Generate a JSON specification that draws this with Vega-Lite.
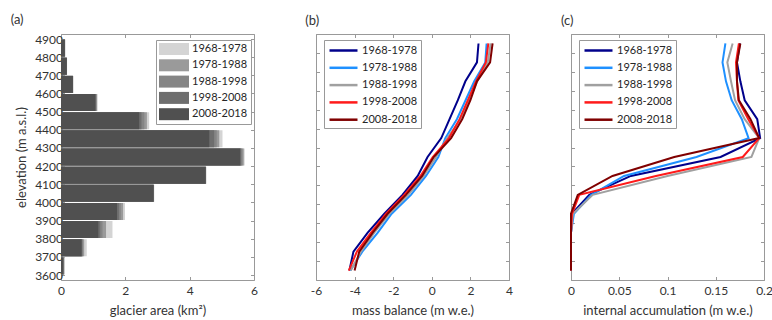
{
  "$schema": "https://vega.github.io/schema/vega-lite/v6.json",
  "padding": {"left": 10, "top": 13, "right": 5, "bottom": 0},
  "bounds": "flush",
  "spacing": 62,
  "config": {
    "font": "Lato",
    "view": {"stroke": "#999", "strokeWidth": 1},
    "axis": {"grid": false, "domain": false, "labelFlush": false, "labelOverlap": false, "tickColor": "#999", "tickSize": -3.5, "labelFont": "Lato", "labelFontSize": 12, "labelColor": "#333", "titleFont": "Lato", "titleFontSize": 13, "titleFontWeight": "normal", "titleColor": "#333"},
    "title": {"font": "Lato", "fontSize": 13, "fontWeight": "normal", "color": "#333", "anchor": "start", "offset": 6},
    "legend": {"orient": "none", "legendX": 8, "legendY": 6, "strokeColor": "#999", "fillColor": "white", "padding": 3, "labelFont": "Lato", "labelFontSize": 11, "labelColor": "#262626", "title": null, "symbolSize": 144, "symbolOffset": 0, "labelOffset": 20, "rowPadding": 4.3}
  },
  "datasets": {
    "area": [
      {"e":3650,"p":"1968-1978","a":0.12},{"e":3650,"p":"1978-1988","a":0.10},{"e":3650,"p":"1988-1998","a":0.09},{"e":3650,"p":"1998-2008","a":0.08},{"e":3650,"p":"2008-2018","a":0.07},
      {"e":3750,"p":"1968-1978","a":0.80},{"e":3750,"p":"1978-1988","a":0.72},{"e":3750,"p":"1988-1998","a":0.68},{"e":3750,"p":"1998-2008","a":0.66},{"e":3750,"p":"2008-2018","a":0.64},
      {"e":3850,"p":"1968-1978","a":1.60},{"e":3850,"p":"1978-1988","a":1.40},{"e":3850,"p":"1988-1998","a":1.29},{"e":3850,"p":"1998-2008","a":1.22},{"e":3850,"p":"2008-2018","a":1.16},
      {"e":3950,"p":"1968-1978","a":1.99},{"e":3950,"p":"1978-1988","a":1.93},{"e":3950,"p":"1988-1998","a":1.86},{"e":3950,"p":"1998-2008","a":1.80},{"e":3950,"p":"2008-2018","a":1.74},
      {"e":4050,"p":"1968-1978","a":2.90},{"e":4050,"p":"1978-1988","a":2.89},{"e":4050,"p":"1988-1998","a":2.88},{"e":4050,"p":"1998-2008","a":2.88},{"e":4050,"p":"2008-2018","a":2.88},
      {"e":4150,"p":"1968-1978","a":4.52},{"e":4150,"p":"1978-1988","a":4.51},{"e":4150,"p":"1988-1998","a":4.50},{"e":4150,"p":"1998-2008","a":4.50},{"e":4150,"p":"2008-2018","a":4.50},
      {"e":4250,"p":"1968-1978","a":5.71},{"e":4250,"p":"1978-1988","a":5.68},{"e":4250,"p":"1988-1998","a":5.64},{"e":4250,"p":"1998-2008","a":5.60},{"e":4250,"p":"2008-2018","a":5.57},
      {"e":4350,"p":"1968-1978","a":5.02},{"e":4350,"p":"1978-1988","a":4.92},{"e":4350,"p":"1988-1998","a":4.84},{"e":4350,"p":"1998-2008","a":4.76},{"e":4350,"p":"2008-2018","a":4.61},
      {"e":4450,"p":"1968-1978","a":2.74},{"e":4450,"p":"1978-1988","a":2.67},{"e":4450,"p":"1988-1998","a":2.59},{"e":4450,"p":"1998-2008","a":2.50},{"e":4450,"p":"2008-2018","a":2.43},
      {"e":4550,"p":"1968-1978","a":1.14},{"e":4550,"p":"1978-1988","a":1.12},{"e":4550,"p":"1988-1998","a":1.10},{"e":4550,"p":"1998-2008","a":1.08},{"e":4550,"p":"2008-2018","a":1.07},
      {"e":4650,"p":"1968-1978","a":0.38},{"e":4650,"p":"1978-1988","a":0.38},{"e":4650,"p":"1988-1998","a":0.37},{"e":4650,"p":"1998-2008","a":0.37},{"e":4650,"p":"2008-2018","a":0.37},
      {"e":4750,"p":"1968-1978","a":0.19},{"e":4750,"p":"1978-1988","a":0.18},{"e":4750,"p":"1988-1998","a":0.18},{"e":4750,"p":"1998-2008","a":0.18},{"e":4750,"p":"2008-2018","a":0.18},
      {"e":4850,"p":"1968-1978","a":0.13},{"e":4850,"p":"1978-1988","a":0.13},{"e":4850,"p":"1988-1998","a":0.12},{"e":4850,"p":"1998-2008","a":0.12},{"e":4850,"p":"2008-2018","a":0.12}
    ],
    "mb": [
      {"e":3650,"p":"1968-1978","v":-4.27},{"e":3750,"p":"1968-1978","v":-4.06},{"e":3850,"p":"1968-1978","v":-3.32},{"e":3950,"p":"1968-1978","v":-2.46},{"e":4050,"p":"1968-1978","v":-1.52},{"e":4150,"p":"1968-1978","v":-0.73},{"e":4250,"p":"1968-1978","v":-0.22},{"e":4350,"p":"1968-1978","v":0.49},{"e":4450,"p":"1968-1978","v":0.92},{"e":4550,"p":"1968-1978","v":1.35},{"e":4650,"p":"1968-1978","v":1.74},{"e":4750,"p":"1968-1978","v":2.34},{"e":4850,"p":"1968-1978","v":2.42},
      {"e":3650,"p":"1978-1988","v":-4.22},{"e":3750,"p":"1978-1988","v":-3.6},{"e":3850,"p":"1978-1988","v":-2.8},{"e":3950,"p":"1978-1988","v":-2.08},{"e":4050,"p":"1978-1988","v":-1.08},{"e":4150,"p":"1978-1988","v":-0.3},{"e":4250,"p":"1978-1988","v":0.34},{"e":4350,"p":"1978-1988","v":0.7},{"e":4450,"p":"1978-1988","v":1.3},{"e":4550,"p":"1978-1988","v":1.75},{"e":4650,"p":"1978-1988","v":2.2},{"e":4750,"p":"1978-1988","v":2.77},{"e":4850,"p":"1978-1988","v":2.84},
      {"e":3650,"p":"1988-1998","v":-4.2},{"e":3750,"p":"1988-1998","v":-3.67},{"e":3850,"p":"1988-1998","v":-2.98},{"e":3950,"p":"1988-1998","v":-2.2},{"e":4050,"p":"1988-1998","v":-1.22},{"e":4150,"p":"1988-1998","v":-0.42},{"e":4250,"p":"1988-1998","v":0.22},{"e":4350,"p":"1988-1998","v":0.8},{"e":4450,"p":"1988-1998","v":1.5},{"e":4550,"p":"1988-1998","v":1.93},{"e":4650,"p":"1988-1998","v":2.35},{"e":4750,"p":"1988-1998","v":2.9},{"e":4850,"p":"1988-1998","v":3.05},
      {"e":3650,"p":"1998-2008","v":-4.3},{"e":3750,"p":"1998-2008","v":-3.88},{"e":3850,"p":"1998-2008","v":-3.15},{"e":3950,"p":"1998-2008","v":-2.37},{"e":4050,"p":"1998-2008","v":-1.43},{"e":4150,"p":"1998-2008","v":-0.59},{"e":4250,"p":"1998-2008","v":0.05},{"e":4350,"p":"1998-2008","v":0.89},{"e":4450,"p":"1998-2008","v":1.44},{"e":4550,"p":"1998-2008","v":1.87},{"e":4650,"p":"1998-2008","v":2.29},{"e":4750,"p":"1998-2008","v":2.8},{"e":4850,"p":"1998-2008","v":2.93},
      {"e":3650,"p":"2008-2018","v":-4.0},{"e":3750,"p":"2008-2018","v":-3.76},{"e":3850,"p":"2008-2018","v":-3.06},{"e":3950,"p":"2008-2018","v":-2.29},{"e":4050,"p":"2008-2018","v":-1.34},{"e":4150,"p":"2008-2018","v":-0.5},{"e":4250,"p":"2008-2018","v":0.1},{"e":4350,"p":"2008-2018","v":1.0},{"e":4450,"p":"2008-2018","v":1.58},{"e":4550,"p":"2008-2018","v":2.0},{"e":4650,"p":"2008-2018","v":2.34},{"e":4750,"p":"2008-2018","v":3.02},{"e":4850,"p":"2008-2018","v":3.15}
    ],
    "ia": [
      {"e":3650,"p":"1968-1978","v":0},{"e":3750,"p":"1968-1978","v":0},{"e":3850,"p":"1968-1978","v":0},{"e":3950,"p":"1968-1978","v":0.001},{"e":4050,"p":"1968-1978","v":0.019},{"e":4150,"p":"1968-1978","v":0.062},{"e":4250,"p":"1968-1978","v":0.155},{"e":4350,"p":"1968-1978","v":0.196},{"e":4450,"p":"1968-1978","v":0.193},{"e":4550,"p":"1968-1978","v":0.18},{"e":4650,"p":"1968-1978","v":0.1755},{"e":4750,"p":"1968-1978","v":0.172},{"e":4850,"p":"1968-1978","v":0.175},
      {"e":3650,"p":"1978-1988","v":0},{"e":3750,"p":"1978-1988","v":0},{"e":3850,"p":"1978-1988","v":0},{"e":3950,"p":"1978-1988","v":0.003},{"e":4050,"p":"1978-1988","v":0.021},{"e":4150,"p":"1978-1988","v":0.055},{"e":4250,"p":"1978-1988","v":0.13},{"e":4350,"p":"1978-1988","v":0.184},{"e":4450,"p":"1978-1988","v":0.177},{"e":4550,"p":"1978-1988","v":0.1665},{"e":4650,"p":"1978-1988","v":0.1606},{"e":4750,"p":"1978-1988","v":0.157},{"e":4850,"p":"1978-1988","v":0.16},
      {"e":3650,"p":"1988-1998","v":0},{"e":3750,"p":"1988-1998","v":0},{"e":3850,"p":"1988-1998","v":0},{"e":3950,"p":"1988-1998","v":0.002},{"e":4050,"p":"1988-1998","v":0.0225},{"e":4150,"p":"1988-1998","v":0.1},{"e":4250,"p":"1988-1998","v":0.187},{"e":4350,"p":"1988-1998","v":0.195},{"e":4450,"p":"1988-1998","v":0.18},{"e":4550,"p":"1988-1998","v":0.17},{"e":4650,"p":"1988-1998","v":0.1658},{"e":4750,"p":"1988-1998","v":0.162},{"e":4850,"p":"1988-1998","v":0.1675},
      {"e":3650,"p":"1998-2008","v":0},{"e":3750,"p":"1998-2008","v":0},{"e":3850,"p":"1998-2008","v":0},{"e":3950,"p":"1998-2008","v":0.001},{"e":4050,"p":"1998-2008","v":0.0086},{"e":4150,"p":"1998-2008","v":0.088},{"e":4250,"p":"1998-2008","v":0.178},{"e":4350,"p":"1998-2008","v":0.195},{"e":4450,"p":"1998-2008","v":0.1837},{"e":4550,"p":"1998-2008","v":0.1734},{"e":4650,"p":"1998-2008","v":0.172},{"e":4750,"p":"1998-2008","v":0.171},{"e":4850,"p":"1998-2008","v":0.174},
      {"e":3650,"p":"2008-2018","v":0},{"e":3750,"p":"2008-2018","v":0},{"e":3850,"p":"2008-2018","v":0},{"e":3950,"p":"2008-2018","v":0},{"e":4050,"p":"2008-2018","v":0.007},{"e":4150,"p":"2008-2018","v":0.043},{"e":4250,"p":"2008-2018","v":0.107},{"e":4350,"p":"2008-2018","v":0.195},{"e":4450,"p":"2008-2018","v":0.186},{"e":4550,"p":"2008-2018","v":0.174},{"e":4650,"p":"2008-2018","v":0.172},{"e":4750,"p":"2008-2018","v":0.172},{"e":4850,"p":"2008-2018","v":0.1755}
    ]
  },
  "hconcat": [
    {
      "width": 193, "height": 246,
      "title": {"text": "(a)", "dx": -5},
      "data": {"name": "area"},
      "layer": [
        {
          "mark": {"type": "bar", "orient": "horizontal", "size": 17},
          "encoding": {
            "y": {"field": "e", "type": "quantitative", "scale": {"domain": [3600, 4900], "nice": false, "zero": false}, "axis": {"values": [3600,3700,3800,3900,4000,4100,4200,4300,4400,4500,4600,4700,4800,4900], "labelExpr": "'' + datum.value", "title": "elevation (m a.s.l.)", "labelPadding": 2, "titlePadding": 6}},
            "x": {"field": "a", "type": "quantitative", "stack": null, "scale": {"domain": [0, 6], "nice": false}, "axis": {"values": [0,2,4,6], "title": "glacier area (km²)", "labelPadding": 9, "titlePadding": 8}},
            "color": {"field": "p", "type": "nominal", "scale": {"domain": ["1968-1978","1978-1988","1988-1998","1998-2008","2008-2018"], "range": ["#d4d4d4","#9a9a9a","#858585","#6e6e6e","#505050"]}, "legend": {"legendX": 95, "legendY": 6, "symbolType": "M-1,-1H4V1H-1Z", "symbolStrokeWidth": 0, "symbolOpacity": 1, "labelOffset": 21}}
          }
        },
        {
          "mark": {"type": "point", "opacity": 0},
          "encoding": {
            "x": {"field": "a", "type": "quantitative", "stack": null, "axis": {"orient": "top", "labels": false, "title": null, "values": [0,2,4,6]}},
            "y": {"field": "e", "type": "quantitative", "axis": {"orient": "right", "labels": false, "title": null, "values": [3600,3700,3800,3900,4000,4100,4200,4300,4400,4500,4600,4700,4800,4900]}}
          }
        }
      ],
      "resolve": {"axis": {"x": "independent", "y": "independent"}}
    },
    {
      "width": 193, "height": 246,
      "title": {"text": "(b)", "dx": -5},
      "data": {"name": "mb"},
      "layer": [
        {
          "mark": {"type": "line", "strokeWidth": 2},
          "encoding": {
            "y": {"field": "e", "type": "quantitative", "scale": {"domain": [3600, 4900], "nice": false, "zero": false}, "axis": {"values": [3600,3700,3800,3900,4000,4100,4200,4300,4400,4500,4600,4700,4800,4900], "labels": false, "title": null}},
            "x": {"field": "v", "type": "quantitative", "scale": {"domain": [-6, 4], "nice": false}, "axis": {"values": [-6,-4,-2,0,2,4], "labelExpr": "'' + datum.value", "title": "mass balance (m w.e.)", "labelPadding": 9, "titlePadding": 8}},
            "color": {"field": "p", "type": "nominal", "scale": {"domain": ["1968-1978","1978-1988","1988-1998","1998-2008","2008-2018"], "range": ["#00008b","#1e90ff","#a0a0a0","#ff1a1a","#800000"]}, "legend": {"legendX": 8, "legendY": 6, "symbolType": "M-0.833,0H3.833", "symbolStrokeWidth": 2.5}},
            "order": {"field": "e", "type": "quantitative"}
          }
        },
        {
          "mark": {"type": "point", "opacity": 0},
          "encoding": {
            "x": {"field": "v", "type": "quantitative", "axis": {"orient": "top", "labels": false, "title": null, "values": [-6,-4,-2,0,2,4]}},
            "y": {"field": "e", "type": "quantitative", "axis": {"orient": "right", "labels": false, "title": null, "values": [3600,3700,3800,3900,4000,4100,4200,4300,4400,4500,4600,4700,4800,4900]}}
          }
        }
      ],
      "resolve": {"axis": {"x": "independent", "y": "independent"}}
    },
    {
      "width": 193, "height": 246,
      "title": {"text": "(c)", "dx": -6},
      "data": {"name": "ia"},
      "layer": [
        {
          "mark": {"type": "line", "strokeWidth": 2},
          "encoding": {
            "y": {"field": "e", "type": "quantitative", "scale": {"domain": [3600, 4900], "nice": false, "zero": false}, "axis": {"values": [3600,3700,3800,3900,4000,4100,4200,4300,4400,4500,4600,4700,4800,4900], "labels": false, "title": null}},
            "x": {"field": "v", "type": "quantitative", "scale": {"domain": [0, 0.2], "nice": false}, "axis": {"values": [0,0.05,0.1,0.15,0.2], "labelExpr": "'' + datum.value", "title": "internal accumulation (m w.e.)", "labelPadding": 9, "titlePadding": 8}},
            "color": {"field": "p", "type": "nominal", "scale": {"domain": ["1968-1978","1978-1988","1988-1998","1998-2008","2008-2018"], "range": ["#00008b","#1e90ff","#a0a0a0","#ff1a1a","#800000"]}, "legend": {"legendX": 8, "legendY": 6, "symbolType": "M-0.833,0H3.833", "symbolStrokeWidth": 2.5}},
            "order": {"field": "e", "type": "quantitative"}
          }
        },
        {
          "mark": {"type": "point", "opacity": 0},
          "encoding": {
            "x": {"field": "v", "type": "quantitative", "axis": {"orient": "top", "labels": false, "title": null, "values": [0,0.05,0.1,0.15,0.2]}},
            "y": {"field": "e", "type": "quantitative", "axis": {"orient": "right", "labels": false, "title": null, "values": [3600,3700,3800,3900,4000,4100,4200,4300,4400,4500,4600,4700,4800,4900]}}
          }
        }
      ],
      "resolve": {"axis": {"x": "independent", "y": "independent"}}
    }
  ],
  "resolve": {"scale": {"color": "independent"}, "legend": {"color": "independent"}}
}
